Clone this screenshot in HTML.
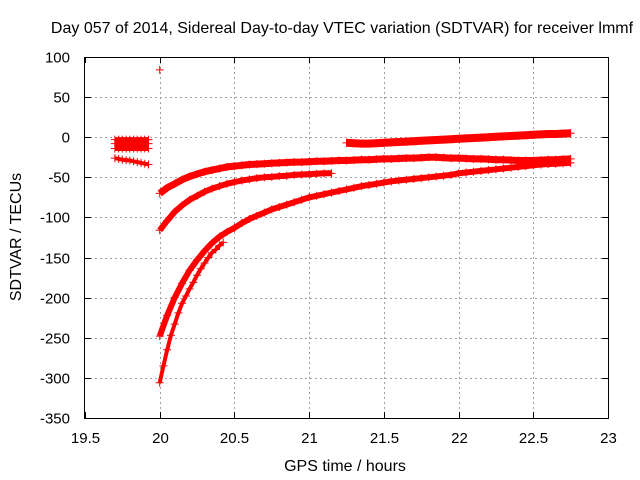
<!DOCTYPE html>
<html><head><meta charset="utf-8"><style>
body{margin:0;background:#fff}
svg{display:block;font-family:"Liberation Sans",sans-serif}
</style></head><body>
<svg id="chart" width="640" height="480" viewBox="0 0 640 480" xmlns="http://www.w3.org/2000/svg">
<rect width="640" height="480" fill="#fff"/>
<text x="342" y="33" font-size="16" text-anchor="middle" fill="#000">Day 057 of 2014, Sidereal Day-to-day VTEC variation (SDTVAR) for receiver lmmf</text>
<text transform="translate(21,237) rotate(-90)" font-size="16" text-anchor="middle">SDTVAR / TECUs</text>
<text x="345" y="471" font-size="16" text-anchor="middle">GPS time / hours</text>
<g id="grid"></g><g id="ticks"></g><g id="marks"></g>
<rect x="84.5" y="57.5" width="524" height="361" fill="none" stroke="#000" stroke-width="1"/>
</svg>
<script>
const xTicks=[19.5,20,20.5,21,21.5,22,22.5,23];
const xTickLabels=["19.5","20","20.5","21","21.5","22","22.5","23"];
const yTicks=[100,50,0,-50,-100,-150,-200,-250,-300,-350];
const yTickLabels=["100","50","0","-50","-100","-150","-200","-250","-300","-350"];
const seriesAStart=20.0, seriesAStep=0.05;
const seriesA=[-70,-63,-58,-53,-49,-46,-43,-41,-39,-37,-36,-35,-34,-33.5,-33,-32.5,-32,-31.5,-31,-31,-30.5,-30,-30,-29.5,-29,-29,-28.5,-28,-28,-27.5,-27,-27,-26.5,-26,-26,-25.5,-25,-25,-25.5,-26,-26,-26.5,-27,-27,-27.5,-28,-28,-28.5,-29,-29,-29,-28.5,-28,-28,-27.5,-27];
const seriesBStart=20.0, seriesBStep=0.05;
const seriesB=[-116,-104,-93,-85,-78,-73,-68,-64,-61,-58,-56,-54,-52.5,-51,-50,-49.5,-48.5,-48,-47,-46.5,-46,-45.5,-45,-45];
const seriesCStart=20.0, seriesCStep=0.05;
const seriesC=[-248,-222,-200,-182,-166,-153,-142,-132,-124,-118,-113,-107,-102,-98,-94,-90,-87,-84,-81,-78,-75,-73,-71,-69,-67,-65,-63,-61,-59.5,-58,-56.5,-55,-54,-53,-52,-51,-50,-49,-48,-47,-45,-44,-43,-42,-41,-40,-39,-38,-37,-36,-35,-34,-33.5,-33,-32.5,-32];
const seriesDStart=20.0, seriesDStep=0.025;
const seriesD=[-306,-285,-265,-247,-233,-219,-207,-198,-189,-181,-172,-164,-157,-150,-144,-140,-135,-131];
const seriesEStart=21.25, seriesEStep=0.05;
const seriesE=[-7,-7.5,-8,-8,-7.5,-7,-6.5,-6,-5.5,-5,-4.5,-4,-3.5,-3,-2.5,-2,-1.5,-1,-0.5,0,0.5,1,1.5,2,2.5,3,3.5,4,4,4.5,5];
const earlyStart=19.7, earlyStep=0.025;
const earlyRow1=[-3,-3,-3,-3,-3,-3,-3,-3,-3,-3];
const earlyRow2=[-8,-8,-8,-8,-8,-8,-8,-8,-8,-8];
const earlyRow3=[-14,-14,-14,-14,-14,-14,-14,-14,-14,-14];
const earlyRow4=[-26,-27,-28,-28.5,-29,-30,-31,-32,-33,-34];
const outlierT=[20.0];
const outlierV=[84];

const X0=85,X1=608,Y0=418,Y1=57;
function xs(t){return X0+(t-19.5)/(23-19.5)*(X1-X0);}
function ys(v){return Y0-(v+350)/450*(Y0-Y1);}
const NS="http://www.w3.org/2000/svg";
function mk(tag,attrs,parent){const e=document.createElementNS(NS,tag);for(const k in attrs)e.setAttribute(k,attrs[k]);parent.appendChild(e);return e;}
const grid=document.getElementById('grid'),ticks=document.getElementById('ticks'),marks=document.getElementById('marks');
xTicks.forEach((t,i)=>{const x=Math.round(xs(t))+0.5;
 if(i>0&&i<xTicks.length-1){const g=mk('line',{x1:x,x2:x,y1:Y1,y2:Y0,stroke:'#a0a0a0','stroke-dasharray':'2,3'},grid);
 
 }
 mk('line',{x1:x,x2:x,y1:Y0,y2:Y0-6,stroke:'#000'},ticks);
 mk('line',{x1:x,x2:x,y1:Y1,y2:Y1+6,stroke:'#000'},ticks);
 const l=mk('text',{x:x,y:443,'font-size':15,'text-anchor':'middle'},ticks);l.textContent=xTickLabels[i];
 
 });
yTicks.forEach((v,i)=>{const y=Math.round(ys(v))+0.5;
 if(i>0&&i<yTicks.length-1){const g=mk('line',{x1:X0,x2:X1,y1:y,y2:y,stroke:'#a0a0a0','stroke-dasharray':'2,3'},grid);
 
 }
 mk('line',{x1:X0,x2:X0+6,y1:y,y2:y,stroke:'#000'},ticks);
 mk('line',{x1:X1,x2:X1-6,y1:y,y2:y,stroke:'#000'},ticks);
 const l=mk('text',{x:70,y:y+5,'font-size':15,'text-anchor':'end'},ticks);l.textContent=yTickLabels[i];
 
 });
function series(start,step,vals,name,band){
 const g=mk('g',{},marks);
 
 
 if(band&&vals.length>1){const pts=vals.map((v,i)=>xs(start+i*step).toFixed(1)+','+ys(v).toFixed(1)).join(' ');
  mk('polyline',{points:pts,fill:'none',stroke:'#f00','stroke-width':band,'stroke-linejoin':'round'},g);}
 vals.forEach((v,i)=>{const x=xs(start+i*step),y=ys(v);
  mk('path',{d:`M${x-4},${y}h8M${x},${y-4}v8`,stroke:'#f00','stroke-width':1,fill:'none'},g);});
}
series(seriesAStart,seriesAStep,seriesA,'series-a',7);
series(seriesBStart,seriesBStep,seriesB,'series-b',6);
series(seriesCStart,seriesCStep,seriesC,'series-c',6);
series(seriesDStart,seriesDStep,seriesD,'series-d',4);
series(seriesEStart,seriesEStep,seriesE,'series-e',8);
series(earlyStart,earlyStep,earlyRow1,'early-row-1',5);
series(earlyStart,earlyStep,earlyRow2,'early-row-2',5);
series(earlyStart,earlyStep,earlyRow3,'early-row-3',5);
series(earlyStart,earlyStep,earlyRow4,'early-row-4',4);
outlierT.forEach((t,i)=>{series(t,0,[outlierV[i]],'outlier-point',0);});
</script>
</body></html>
